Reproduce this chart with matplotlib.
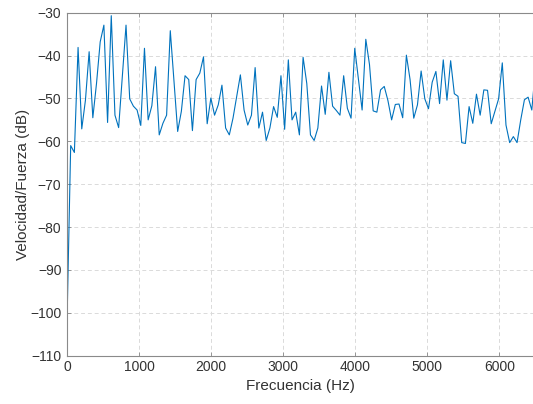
import numpy as np
import matplotlib
matplotlib.use("Agg")
import matplotlib.pyplot as plt

plt.rcParams['font.family'] = ['Liberation Sans', 'DejaVu Sans']

df_hz = 51.2
velocidad_fuerza_db = [
    -102.4, -61.0, -62.6, -38.1, -57.1, -50.4, -39.1, -54.5, -46.5, -36.8,
    -32.9, -55.6, -30.7, -53.9, -56.8, -44.9, -32.9, -50.1, -51.8, -52.7,
    -56.3, -38.3, -55.0, -51.7, -42.6, -58.5, -55.8, -53.9, -34.2, -46.0,
    -57.7, -53.0, -44.7, -45.6, -57.5, -45.6, -44.1, -40.3, -55.9, -49.9,
    -53.9, -51.5, -46.9, -56.9, -58.5, -54.6, -49.6, -44.5, -52.7, -56.2,
    -53.9, -42.8, -56.9, -53.2, -59.8, -56.9, -51.9, -54.4, -44.7, -57.2,
    -41.0, -55.0, -53.2, -58.5, -40.4, -46.5, -58.5, -59.8, -56.9, -47.1,
    -53.7, -43.9, -51.8, -52.8, -53.9, -44.7, -52.3, -54.6, -38.3, -45.6,
    -52.7, -36.2, -42.1, -52.9, -53.2, -48.0, -47.2, -50.5, -55.0, -51.4,
    -51.3, -54.5, -39.9, -45.6, -54.6, -51.5, -43.6, -50.1, -52.4, -46.2,
    -43.7, -51.2, -41.0, -50.4, -41.2, -48.9, -49.5, -60.3, -60.5, -51.9,
    -55.8, -49.0, -53.9, -48.0, -48.1, -55.9, -53.0, -50.1, -41.7, -56.2,
    -60.3, -58.9, -60.3, -55.0, -50.3, -49.7, -52.7, -43.0,
]
frecuencia_hz = np.arange(len(velocidad_fuerza_db)) * df_hz

x_ticks = [0, 1000, 2000, 3000, 4000, 5000, 6000]
y_ticks = [-110, -100, -90, -80, -70, -60, -50, -40, -30]

fig = plt.figure(figsize=(5.33, 4.04), dpi=100)
ax = fig.add_axes([67/533, (404-355.7)/404, (533-66.7)/533, 343/404])

ax.plot(frecuencia_hz, velocidad_fuerza_db, color='#0072BD', lw=0.8)

ax.set_xlim(0, 6472)
ax.set_ylim(-110, -30)
ax.set_xticks(x_ticks)
ax.set_yticks(y_ticks)

ax.grid(True, color='#dadada', linestyle=(0, (4, 3)), linewidth=0.7)
ax.set_axisbelow(True)

for name, sp in ax.spines.items():
    sp.set_color('#8a8a8a')
    sp.set_linewidth(0.8)
ax.spines['right'].set_visible(False)

ax.tick_params(direction='in', length=3, width=0.6, color='#8a8a8a',
               labelsize=10, labelcolor='#333333', top=True)
ax.tick_params(axis='x', pad=3)
ax.tick_params(axis='y', pad=4)

ax.set_xlabel('Frecuencia (Hz)', fontsize=11, color='#333333', labelpad=4)
ax.set_ylabel('Velocidad/Fuerza (dB)', fontsize=11, color='#333333', labelpad=0)

fig.savefig('out.png', dpi=100)
